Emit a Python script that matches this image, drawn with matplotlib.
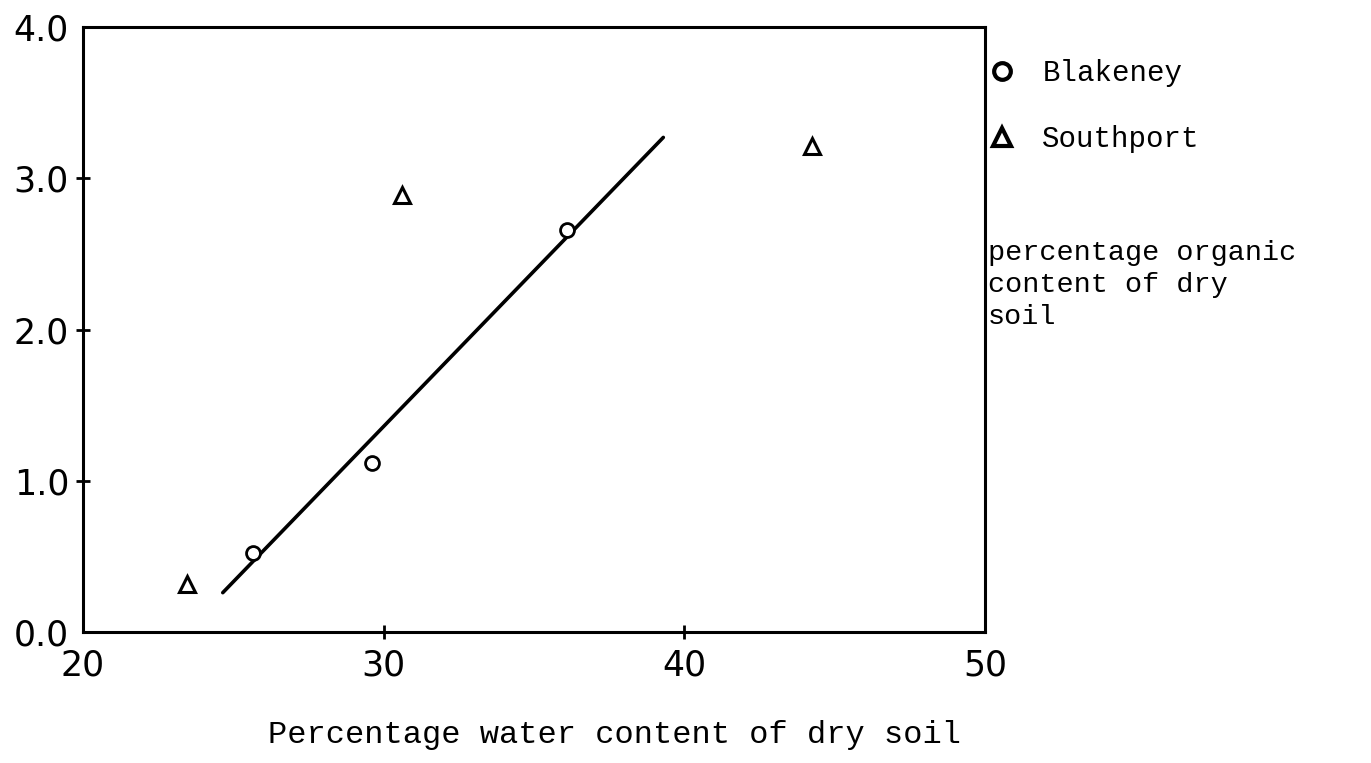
import numpy as np
import matplotlib
matplotlib.use("Agg")
import matplotlib.pyplot as plt

# values
blakeney_water = [25.65, 29.6, 36.1]
blakeney_organic = [0.52, 1.12, 2.66]
southport_water = [23.45, 30.6, 44.25]
southport_organic = [0.32, 2.89, 3.21]
# fitted line drawn through the Blakeney points (end points)
fit_water = [24.65, 39.3]
fit_organic = [0.26, 3.27]

xticks = [20, 30, 40, 50]
yticks = [0.0, 1.0, 2.0, 3.0, 4.0]
ytick_labels = ['0.0', '1.0', '2.0', '3.0', '4.0']

mono = 'Liberation Mono'

fig = plt.figure(figsize=(13.71, 7.63), dpi=100)
ax = fig.add_axes([0.0605, 0.1717, 0.658, 0.7929])

ax.plot(fit_water, fit_organic, color='black', lw=2.6, solid_capstyle='round')
ax.plot(blakeney_water, blakeney_organic, 'o', ms=10, mfc='white', mec='black',
        mew=2.0, label='Blakeney')
ax.plot(southport_water, southport_organic, '^', ms=11, mfc='white', mec='black',
        mew=2.2, label='Southport')

ax.set_xlim(20, 50)
ax.set_ylim(0, 4.0)
ax.set_xticks(xticks)
ax.set_yticks(yticks)
ax.set_yticklabels(ytick_labels)
for s in ax.spines.values():
    s.set_linewidth(2.2)
ax.tick_params(direction='inout', length=10, width=2.0, labelsize=25, pad=5)
ax.tick_params(axis='x', pad=7)
# no tick marks at the corners, only the labels
for t in [ax.xaxis.get_major_ticks()[0], ax.xaxis.get_major_ticks()[-1],
          ax.yaxis.get_major_ticks()[0], ax.yaxis.get_major_ticks()[-1]]:
    t.tick1line.set_visible(False)

# x label sits off-centre in the original
fig.text(614 / 1371, 1 - 735 / 763, 'Percentage water content of dry soil',
         family=mono, fontsize=23, ha='center', va='center')

# legend outside the box on the right
leg = ax.legend(loc='upper left', bbox_to_anchor=(0.973, 0.99), frameon=False,
                prop={'family': mono, 'size': 21}, handlelength=1.0,
                handletextpad=0.9, labelspacing=1.3, markerscale=1.2)
for h in leg.legend_handles:
    h.set_markeredgewidth(3)

fig.text(988 / 1371, 1 - 240 / 763, 'percentage organic\ncontent of dry\nsoil',
         family=mono, fontsize=20.5, va='top', ha='left', linespacing=1.3)

fig.savefig('out.png', dpi=100)
